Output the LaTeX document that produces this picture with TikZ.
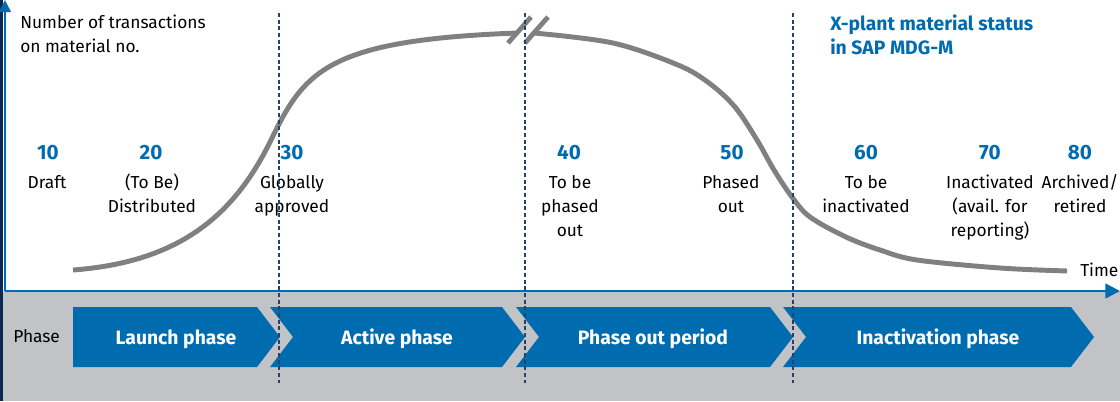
\documentclass[tikz,border=0pt]{standalone}
\usepackage{fontspec}
\setmainfont{Fira Sans}
\usetikzlibrary{arrows.meta}
\definecolor{sapblue}{RGB}{0,108,176}
\definecolor{bggray}{RGB}{194,195,198}
\definecolor{curvegray}{RGB}{128,128,128}
\definecolor{navystrip}{RGB}{10,40,80}
\definecolor{dashnavy}{RGB}{40,65,100}
\begin{document}
\begin{tikzpicture}[x=0.75pt,y=-0.75pt,
  axisline/.style={draw=sapblue,line width=1.9pt},
  curveline/.style={draw=curvegray,line width=3.7pt},
  breakmark/.style={draw=curvegray,line width=3.6pt,line cap=butt},
  divider/.style={draw=dashnavy,line width=0.9pt,dash pattern=on 3pt off 2pt},
  chevron/.style={fill=sapblue,draw=none},
  phasetext/.style={text=white,font=\fontsize{14.5}{16}\selectfont\bfseries,inner sep=0pt},
  statnum/.style={text=sapblue,font=\fontsize{15.5}{18}\selectfont\bfseries,inner sep=0pt,anchor=base},
  statlabel/.style={text=black,font=\fontsize{13}{18}\selectfont,align=center,inner sep=0pt,anchor=north},
  plaintext/.style={text=black,font=\fontsize{13}{18}\selectfont,inner sep=0pt},
  titletext/.style={text=sapblue,font=\fontsize{14.5}{18}\selectfont\bfseries,align=left,inner sep=0pt,anchor=north west}
]
\useasboundingbox (0,0) rectangle (1120,401);
\fill[white] (0,0) rectangle (1120,291);
\fill[bggray] (0,291) rectangle (1120,401);
\fill[navystrip] (0,0) rectangle (3,401);

% chevrons
\path[chevron] (73,307) -- (257,307) -- (280,337) -- (257,367) -- (73,367) -- cycle;
\path[chevron] (270,307) -- (502,307) -- (525,337) -- (502,367) -- (270,367) -- (293,337) -- cycle;
\path[chevron] (516,307) -- (770,307) -- (793,337) -- (770,367) -- (516,367) -- (539,337) -- cycle;
\path[chevron] (783,307) -- (1071,307) -- (1094,337) -- (1071,367) -- (783,367) -- (806,337) -- cycle;
\node[phasetext,anchor=base] (launch) at (176,344) {Launch phase};
\node[phasetext,anchor=base] (active) at (397,344) {Active phase};
\node[phasetext,anchor=base] (phaseout) at (653,344) {Phase out period};
\node[phasetext,anchor=base] (inact) at (938,344) {Inactivation phase};
\node[plaintext,anchor=base west] (phase) at (13,342) {Phase};

% curve
\draw[curveline] (73,270) .. controls (180,262) and (235,215) .. (272,138)
                 .. controls (305,70) and (330,40) .. (517,33);
\draw[curveline] plot[smooth,tension=0.55] coordinates {(534,33) (613,43) (678,65) (709,83) (735,107) (757,140) (774,170) (792,197) (810,217) (846,237) (880,250) (917,260) (1000,268) (1067,271)};
\coordinate (b1a) at (508,43); \coordinate (b1b) at (531,17);
\coordinate (b2a) at (525,43); \coordinate (b2b) at (548,17);
\draw[breakmark] (b1a) -- (b1b);
\draw[breakmark] (b2a) -- (b2b);

% texts
\node[plaintext,anchor=north west,align=left] (ylabel) at (20,11.2) {\strut Number of transactions\\on material no.};
\node[titletext] (title) at (830,13.2) {\strut X-plant material status\\in SAP MDG-M};

\node[statnum] (n10) at (48,159) {10};
\node[statnum] (n20) at (151,159) {20};
\node[statnum] (n30) at (292,159) {30};
\node[statnum] (n40) at (569,159) {40};
\node[statnum] (n50) at (732,159) {50};
\node[statnum] (n60) at (866,159) {60};
\node[statnum] (n70) at (990,159) {70};
\node[statnum] (n80) at (1080,159) {80};

\node[statlabel] (l10) at (47,171.2) {\strut Draft};
\node[statlabel] (l20) at (152,171.2) {\strut (To Be)\\Distributed};
\node[statlabel] (l30) at (292,171.2) {\strut Globally\\approved};
\node[statlabel] (l40) at (570,171.2) {\strut To be\\phased\\out};
\node[statlabel] (l50) at (731,171.2) {\strut Phased\\out};
\node[statlabel] (l60) at (866,171.2) {\strut To be\\inactivated};
\node[statlabel] (l70) at (990,171.2) {\strut Inactivated\\(avail. for\\reporting)};
\node[statlabel] (l80) at (1080,171.2) {\strut Archived/\\retired};
\node[plaintext,anchor=base west] (time) at (1080,276) {Time};

% dividers
\foreach \x/\n in {279/a,525/b,793/c}{
  \coordinate (d\n top) at (\x,13);
  \coordinate (d\n bot) at (\x,383);
  \draw[divider] (d\n top) -- (d\n bot);
}

% axes
\coordinate (origin) at (5,291);
\coordinate (ytop) at (5,0);
\coordinate (xend) at (1120,291);
\draw[axisline,-{Triangle[length=9pt,width=8.5pt]}] (origin) -- (ytop);
\draw[axisline,-{Triangle[length=11pt,width=11pt]}] (origin) -- (xend);
\end{tikzpicture}
\end{document}
